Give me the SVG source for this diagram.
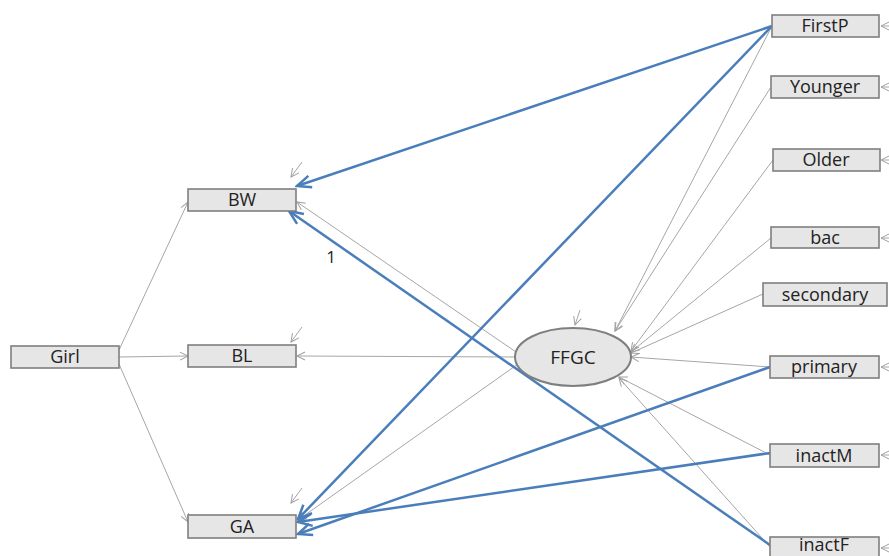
<svg xmlns="http://www.w3.org/2000/svg" width="889" height="556" viewBox="0 0 889 556">
<defs>
<style>
.box{fill:#E6E6E6;stroke:#7F7F7F;stroke-width:1.6}
.ell{fill:#E6E6E6;stroke:#7F7F7F;stroke-width:2}
.lbl{font-family:"Open Sans","Noto Sans","Liberation Sans",sans-serif;font-size:18px;fill:#222;text-anchor:middle}
.g{stroke:#A6A6A6;stroke-width:1;fill:none;marker-end:url(#ag)}
.b{stroke:#4A7EBB;stroke-width:2.5;fill:none;marker-end:url(#ab)}
</style>
<marker id="ag" markerUnits="userSpaceOnUse" viewBox="-10 -6 12 12" refX="0" refY="0" markerWidth="12" markerHeight="12" orient="auto">
<path d="M-8,-4 L0,0 L-8,4" fill="none" stroke="#A0A0A0" stroke-width="1"/>
</marker>
<marker id="ab" markerUnits="userSpaceOnUse" viewBox="-16 -8 18 16" refX="0" refY="0" markerWidth="18" markerHeight="16" orient="auto">
<path d="M-14,-6 L0,0 L-14,6" fill="none" stroke="#4A7EBB" stroke-width="2.5"/>
</marker>
</defs>
<rect width="889" height="556" fill="#fff"/>
<g id="connectors">
<line class="g" x1="119" y1="350" x2="188" y2="202"/>
<line class="g" x1="119" y1="357" x2="188" y2="356"/>
<line class="g" x1="119" y1="364" x2="188" y2="522"/>
<line class="g" x1="516" y1="352" x2="297" y2="202"/>
<line class="g" x1="515" y1="357" x2="297" y2="356"/>
<line class="g" x1="518" y1="364" x2="298" y2="520"/>
<line class="g" x1="772" y1="26" x2="615" y2="331"/>
<line class="g" x1="771" y1="87" x2="615" y2="331"/>
<line class="g" x1="773" y1="160" x2="631" y2="351"/>
<line class="g" x1="771" y1="238" x2="631" y2="352"/>
<line class="g" x1="763" y1="294" x2="631" y2="353"/>
<line class="g" x1="770" y1="367" x2="631" y2="357"/>
<line class="g" x1="770" y1="455" x2="619" y2="377"/>
<line class="g" x1="770" y1="547" x2="619" y2="378"/>
<line class="b" x1="772" y1="26" x2="297" y2="186"/>
<line class="b" x1="772" y1="26" x2="298" y2="519"/>
<line class="b" x1="770" y1="367" x2="298" y2="534"/>
<line class="b" x1="770" y1="453" x2="298" y2="522"/>
<line class="b" x1="770" y1="545" x2="289" y2="211"/>
<line class="g" x1="889" y1="26" x2="881" y2="26"/>
<line class="g" x1="889" y1="87" x2="881" y2="87"/>
<line class="g" x1="889" y1="160" x2="881" y2="160"/>
<line class="g" x1="889" y1="238" x2="881" y2="238"/>
<line class="g" x1="889" y1="367" x2="881" y2="367"/>
<line class="g" x1="889" y1="455" x2="881" y2="455"/>
<line class="g" x1="889" y1="548" x2="881" y2="548"/>
<line class="g" x1="302" y1="162" x2="291" y2="177"/>
<line class="g" x1="302" y1="327" x2="291" y2="342"/>
<line class="g" x1="302" y1="488" x2="291" y2="503"/>
<line class="g" x1="580" y1="310" x2="575" y2="325"/>
<text class="lbl" x="331" y="263" style="font-size:17px">1</text>
</g>
<g id="Girl"><rect class="box" x="11" y="346" width="108" height="22"/><text class="lbl" x="65" y="363">Girl</text></g>
<g id="BW"><rect class="box" x="188" y="189" width="108" height="22"/><text class="lbl" x="242" y="206">BW</text></g>
<g id="BL"><rect class="box" x="188" y="345" width="108" height="22"/><text class="lbl" x="242" y="362">BL</text></g>
<g id="GA"><rect class="box" x="188" y="515" width="108" height="23"/><text class="lbl" x="242" y="533">GA</text></g>
<g id="FFGC"><ellipse class="ell" cx="573" cy="357" rx="58" ry="29"/><text class="lbl" x="573" y="364" style="font-size:19px">FFGC</text></g>
<g id="FirstP"><rect class="box" x="772" y="15" width="107" height="22"/><text class="lbl" x="825" y="32">FirstP</text></g>
<g id="Younger"><rect class="box" x="771" y="76" width="108" height="22"/><text class="lbl" x="825" y="93">Younger</text></g>
<g id="Older"><rect class="box" x="773" y="149" width="107" height="22"/><text class="lbl" x="826" y="166">Older</text></g>
<g id="bac"><rect class="box" x="771" y="227" width="108" height="21"/><text class="lbl" x="825" y="244">bac</text></g>
<g id="secondary"><rect class="box" x="763" y="283" width="124" height="23"/><text class="lbl" x="825" y="301">secondary</text></g>
<g id="primary"><rect class="box" x="770" y="356" width="109" height="22"/><text class="lbl" x="824" y="373">primary</text></g>
<g id="inactM"><rect class="box" x="770" y="444" width="109" height="23"/><text class="lbl" x="824" y="462">inactM</text></g>
<g id="inactF"><rect class="box" x="770" y="537" width="109" height="24"/><text class="lbl" x="824" y="551">inactF</text></g>
</svg>
